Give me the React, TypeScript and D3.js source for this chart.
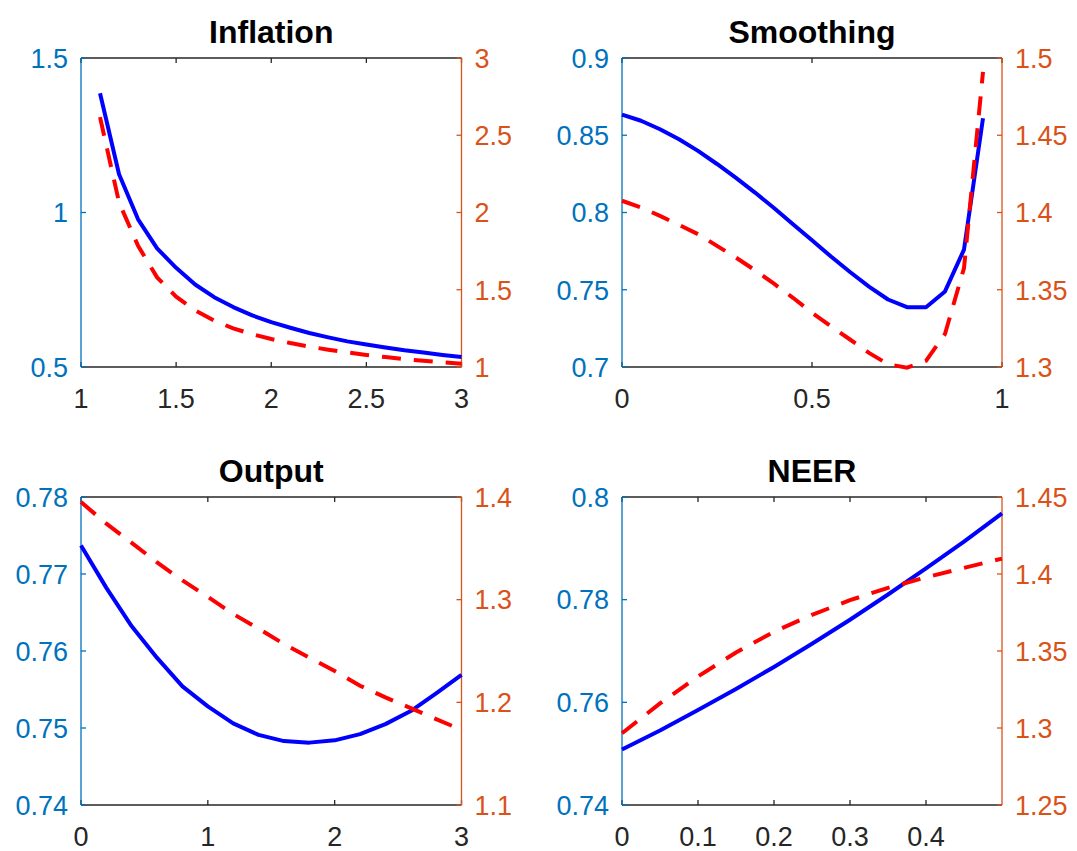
import React from 'react';
import * as d3 from 'd3';

// ---------- data ----------
const inflationX = [1.1, 1.2, 1.3, 1.4, 1.5, 1.6, 1.7, 1.8, 1.9, 2.0, 2.1, 2.2, 2.3, 2.4, 2.5, 2.6, 2.7, 2.8, 2.9, 3.0];
const inflationBlue = [1.386, 1.124, 0.978, 0.884, 0.821, 0.767, 0.726, 0.694, 0.667, 0.645, 0.627, 0.610, 0.596, 0.583, 0.573, 0.563, 0.554, 0.547, 0.539, 0.532];
const inflationRed = [2.617, 2.065, 1.784, 1.58, 1.455, 1.366, 1.300, 1.250, 1.212, 1.181, 1.155, 1.132, 1.112, 1.094, 1.078, 1.064, 1.051, 1.040, 1.030, 1.021];

const smoothX = [0, 0.05, 0.1, 0.15, 0.2, 0.25, 0.3, 0.35, 0.4, 0.45, 0.5, 0.55, 0.6, 0.65, 0.7, 0.75, 0.8, 0.85, 0.9, 0.95];
const smoothBlue = [0.8634, 0.8594, 0.8539, 0.8474, 0.8399, 0.8314, 0.8224, 0.8129, 0.8029, 0.7924, 0.7820, 0.7715, 0.7615, 0.7520, 0.7437, 0.7387, 0.7387, 0.7489, 0.7760, 0.8610];
const smoothRed = [1.4076, 1.4033, 1.3978, 1.3920, 1.3860, 1.3784, 1.3708, 1.3626, 1.3539, 1.3448, 1.3351, 1.3264, 1.3178, 1.3091, 1.3018, 1.2996, 1.3040, 1.3214, 1.3640, 1.4910];

const outputX = [0, 0.2, 0.4, 0.6, 0.8, 1.0, 1.2, 1.4, 1.6, 1.8, 2.0, 2.2, 2.4, 2.6, 2.8, 3.0];
const outputBlue = [0.7737, 0.7682, 0.7632, 0.7591, 0.7554, 0.7528, 0.7506, 0.7491, 0.7483, 0.7481, 0.7484, 0.7492, 0.7505, 0.7522, 0.7545, 0.7569];
const outputRed = [1.3951, 1.3740, 1.3554, 1.3362, 1.3187, 1.3027, 1.2861, 1.2718, 1.2568, 1.2435, 1.2305, 1.2162, 1.2048, 1.1944, 1.1836, 1.1732];

const neerX = [0, 0.05, 0.1, 0.15, 0.2, 0.25, 0.3, 0.35, 0.4, 0.45, 0.5];
const neerBlue = [0.7508, 0.7545, 0.7585, 0.7626, 0.7669, 0.7714, 0.7761, 0.7810, 0.7861, 0.7913, 0.7968];
const neerRed = [1.2966, 1.3160, 1.3335, 1.3490, 1.3625, 1.3735, 1.3830, 1.3910, 1.3978, 1.4040, 1.4100];

const titles = ['Inflation', 'Smoothing', 'Output', 'NEER'];

const xTicksInflation = [1, 1.5, 2, 2.5, 3];
const xTicksSmooth = [0, 0.5, 1];
const xTicksOutput = [0, 1, 2, 3];
const xTicksNeer = [0, 0.1, 0.2, 0.3, 0.4];

const yLeftInflation = [0.5, 1, 1.5];
const yRightInflation = [1, 1.5, 2, 2.5, 3];
const yLeftSmooth = [0.7, 0.75, 0.8, 0.85, 0.9];
const yRightSmooth = [1.3, 1.35, 1.4, 1.45, 1.5];
const yLeftOutput = [0.74, 0.75, 0.76, 0.77, 0.78];
const yRightOutput = [1.1, 1.2, 1.3, 1.4];
const yLeftNeer = [0.74, 0.76, 0.78, 0.8];
const yRightNeer = [1.25, 1.3, 1.35, 1.4, 1.45];

// ---------- layout / style ----------
const W = 1077;
const H = 851;
const cols = [{ x0: 81, x1: 461.5 }, { x0: 622, x1: 1002 }];
const rows = [{ y0: 58, y1: 367 }, { y0: 497, y1: 805 }];
const BLUE_AX = '#0072BD';
const ORANGE_AX = '#D95319';
const GRAY_AX = '#262626';
const FONT = '"Liberation Sans", Arial, Helvetica, sans-serif';
const TICK_FS = 27;
const TITLE_FS = 32;
const TICK_LEN = 5;

const panels = [
  { title: titles[0], col: 0, row: 0, xd: [1, 3], xt: xTicksInflation, yl: [0.5, 1.5], ylt: yLeftInflation, yr: [1, 3], yrt: yRightInflation, x: inflationX, b: inflationBlue, r: inflationRed },
  { title: titles[1], col: 1, row: 0, xd: [0, 1], xt: xTicksSmooth, yl: [0.7, 0.9], ylt: yLeftSmooth, yr: [1.3, 1.5], yrt: yRightSmooth, x: smoothX, b: smoothBlue, r: smoothRed },
  { title: titles[2], col: 0, row: 1, xd: [0, 3], xt: xTicksOutput, yl: [0.74, 0.78], ylt: yLeftOutput, yr: [1.1, 1.4], yrt: yRightOutput, x: outputX, b: outputBlue, r: outputRed },
  { title: titles[3], col: 1, row: 1, xd: [0, 0.5], xt: xTicksNeer, yl: [0.74, 0.8], ylt: yLeftNeer, yr: [1.25, 1.45], yrt: yRightNeer, x: neerX, b: neerBlue, r: neerRed },
];

function fmt(v: number) {
  return String(+v.toFixed(4));
}

function Panel({ p }: { p: any }) {
  const { x0, x1 } = cols[p.col];
  const { y0, y1 } = rows[p.row];
  const xs = d3.scaleLinear().domain(p.xd).range([x0, x1]);
  const yl = d3.scaleLinear().domain(p.yl).range([y1, y0]);
  const yr = d3.scaleLinear().domain(p.yr).range([y1, y0]);
  const pts = p.x.map((xv: number, i: number) => i);
  const blueLine = d3.line<number>().x((i) => xs(p.x[i])).y((i) => yl(p.b[i]))(pts) || '';
  const redLine = d3.line<number>().x((i) => xs(p.x[i])).y((i) => yr(p.r[i]))(pts) || '';
  return (
    <g>
      <text x={(x0 + x1) / 2} y={y0 - 15} textAnchor="middle" fontFamily={FONT} fontWeight="bold" fontSize={TITLE_FS} fill="#000">{p.title}</text>
      <line x1={x0} x2={x1} y1={y0} y2={y0} stroke={GRAY_AX} strokeWidth={1.3} />
      <line x1={x0} x2={x1} y1={y1} y2={y1} stroke={GRAY_AX} strokeWidth={1.3} />
      {p.xt.map((t: number) => (
        <g key={'x' + t}>
          <line x1={xs(t)} x2={xs(t)} y1={y1} y2={y1 - TICK_LEN} stroke={GRAY_AX} strokeWidth={1.3} />
          <line x1={xs(t)} x2={xs(t)} y1={y0} y2={y0 + TICK_LEN} stroke={GRAY_AX} strokeWidth={1.3} />
          <text x={xs(t)} y={y1 + 41} textAnchor="middle" fontFamily={FONT} fontSize={TICK_FS} fill={GRAY_AX}>{fmt(t)}</text>
        </g>
      ))}
      <line x1={x0} x2={x0} y1={y0} y2={y1} stroke={BLUE_AX} strokeWidth={1.3} />
      {p.ylt.map((t: number) => (
        <g key={'yl' + t}>
          <line x1={x0} x2={x0 + TICK_LEN} y1={yl(t)} y2={yl(t)} stroke={BLUE_AX} strokeWidth={1.3} />
          <text x={x0 - 13} y={yl(t) + 9.8} textAnchor="end" fontFamily={FONT} fontSize={TICK_FS} fill={BLUE_AX}>{fmt(t)}</text>
        </g>
      ))}
      <line x1={x1} x2={x1} y1={y0} y2={y1} stroke={ORANGE_AX} strokeWidth={1.3} />
      {p.yrt.map((t: number) => (
        <g key={'yr' + t}>
          <line x1={x1} x2={x1 - TICK_LEN} y1={yr(t)} y2={yr(t)} stroke={ORANGE_AX} strokeWidth={1.3} />
          <text x={x1 + 13} y={yr(t) + 9.8} textAnchor="start" fontFamily={FONT} fontSize={TICK_FS} fill={ORANGE_AX}>{fmt(t)}</text>
        </g>
      ))}
      <path d={blueLine} fill="none" stroke="#0000FF" strokeWidth={4} strokeLinejoin="round" />
      <path d={redLine} fill="none" stroke="#FF0000" strokeWidth={4} strokeDasharray="19 13" />
    </g>
  );
}

export default function App() {
  return (
    <svg width={W} height={H} style={{ position: 'absolute', left: 0, top: 0, background: '#fff' }}>
      <rect x={0} y={0} width={W} height={H} fill="#fff" />
      {panels.map((p, i) => (
        <Panel key={i} p={p} />
      ))}
    </svg>
  );
}
